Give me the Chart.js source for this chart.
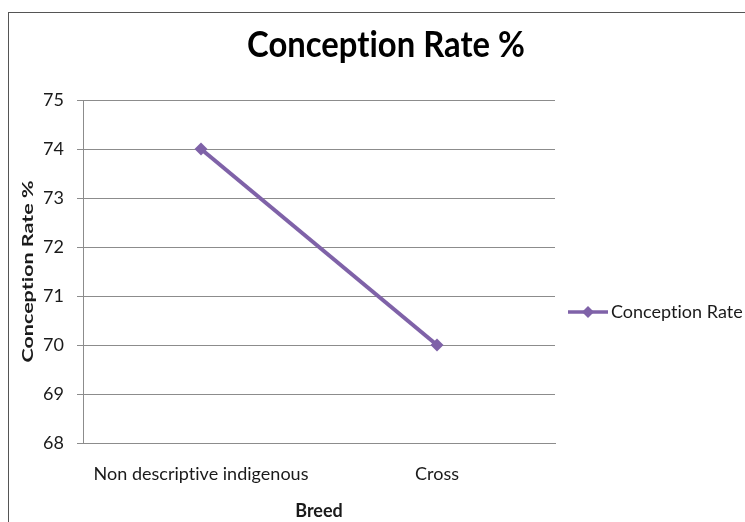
<!DOCTYPE html>
<html>
<head>
<meta charset="utf-8">
<script src="https://cdn.jsdelivr.net/npm/chart.js@4"></script>
<style>
  html, body { margin: 0; padding: 0; background: #fff; }
  #wrap { width: 745px; height: 522px; }
  canvas { font-variant-ligatures: none; letter-spacing: 0.01px; }
</style>
</head>
<body>
<div id="wrap"><canvas id="c" width="745" height="522"></canvas></div>
<script>
// Conception rate by breed
const breeds = ['Non descriptive indigenous', 'Cross'];
const conceptionRate = [74, 70];
const yTicks = [68, 69, 70, 71, 72, 73, 74, 75];

const seriesName = 'Conception Rate';
const chartTitle = 'Conception Rate %';
const xTitle = 'Breed';
const yTitle = 'Conception Rate %';

const FONT = 'Lato, "Open Sans", sans-serif';
const PURPLE = '#7f62a8';
const GRID = '#8c8c8c';
const TEXT = '#1a1a1a';

// plain glyphs, no "ti"/"fi" ligatures
function plainText(ctx) {
  if ('textRendering' in ctx) ctx.textRendering = 'optimizeSpeed';
  if ('letterSpacing' in ctx) ctx.letterSpacing = '0.01px';
}

// draw text squeezed/stretched along its baseline to a given width
function fitText(ctx, text, x, y, width, angle) {
  const natural = ctx.measureText(text).width;
  ctx.save();
  ctx.translate(x, y);
  ctx.rotate(angle);
  ctx.scale(width / natural, 1);
  ctx.fillText(text, 0, 0);
  ctx.restore();
}

// outer frame, chart heading and the vertical axis caption
const framePlugin = {
  id: 'frame',
  beforeDraw(chart) {
    const ctx = chart.ctx;
    plainText(ctx);
    ctx.save();
    ctx.fillStyle = '#fff';
    ctx.fillRect(0, 0, chart.width, chart.height);
    ctx.strokeStyle = '#555';
    ctx.lineWidth = 1;
    ctx.strokeRect(8.5, 12.5, chart.width + 20, chart.height + 20);

    ctx.fillStyle = '#000';
    ctx.textAlign = 'center';
    ctx.textBaseline = 'alphabetic';
    ctx.font = 'bold 37px ' + FONT;
    fitText(ctx, chartTitle, 386, 57, 278, 0);

    const a = chart.chartArea;
    ctx.fillStyle = TEXT;
    ctx.textBaseline = 'middle';
    ctx.font = 'bold 16px ' + FONT;
    fitText(ctx, yTitle, 28, (a.top + a.bottom) / 2, 182, -Math.PI / 2);
    ctx.restore();
  }
};

// series key on the right: line with a diamond, then the name
const keyPlugin = {
  id: 'seriesKey',
  afterDraw(chart) {
    const ctx = chart.ctx;
    const a = chart.chartArea;
    const x0 = a.right + 13;
    const y = a.top + (a.bottom - a.top) * 0.618;
    ctx.save();
    ctx.strokeStyle = PURPLE;
    ctx.lineWidth = 3.5;
    ctx.beginPath();
    ctx.moveTo(x0, y);
    ctx.lineTo(x0 + 40, y);
    ctx.stroke();
    ctx.fillStyle = PURPLE;
    ctx.beginPath();
    ctx.moveTo(x0 + 20, y - 6);
    ctx.lineTo(x0 + 26, y);
    ctx.lineTo(x0 + 20, y + 6);
    ctx.lineTo(x0 + 14, y);
    ctx.closePath();
    ctx.fill();
    ctx.fillStyle = TEXT;
    ctx.font = '18px ' + FONT;
    ctx.textAlign = 'left';
    ctx.textBaseline = 'middle';
    ctx.fillText(seriesName, x0 + 43, y);
    ctx.restore();
  }
};

new Chart(document.getElementById('c'), {
  type: 'line',
  data: {
    labels: breeds,
    datasets: [{
      label: seriesName,
      data: conceptionRate,
      borderColor: PURPLE,
      backgroundColor: PURPLE,
      borderWidth: 4,
      pointStyle: 'rectRot',
      pointRadius: 6.5,
      pointBorderWidth: 0,
      tension: 0
    }]
  },
  options: {
    responsive: false,
    animation: false,
    devicePixelRatio: 1,
    layout: { padding: { left: 0, right: 190, top: 100, bottom: 0 } },
    plugins: {
      legend: { display: false },
      tooltip: { enabled: false },
      title: { display: false }
    },
    scales: {
      x: {
        offset: true,
        grid: { display: false, drawTicks: false },
        border: { display: true, color: GRID, width: 1 },
        ticks: { color: TEXT, font: { family: FONT, size: 18 }, padding: 20 },
        title: {
          display: true,
          text: xTitle,
          color: TEXT,
          font: { family: FONT, size: 18, weight: 'bold' },
          padding: { top: 10, bottom: 0 }
        },
        afterFit(scale) { scale.height = 79; }
      },
      y: {
        min: yTicks[0],
        max: yTicks[yTicks.length - 1],
        afterBuildTicks(scale) { scale.ticks = yTicks.map(v => ({ value: v })); },
        grid: { color: GRID, lineWidth: 1, drawTicks: true, tickLength: 6, tickColor: GRID },
        border: { display: true, color: GRID, width: 1 },
        ticks: { color: TEXT, font: { family: FONT, size: 18 }, padding: 13 },
        title: { display: false },
        afterFit(scale) { scale.width = 83; }
      }
    }
  },
  plugins: [framePlugin, keyPlugin]
});
</script>
</body>
</html>
